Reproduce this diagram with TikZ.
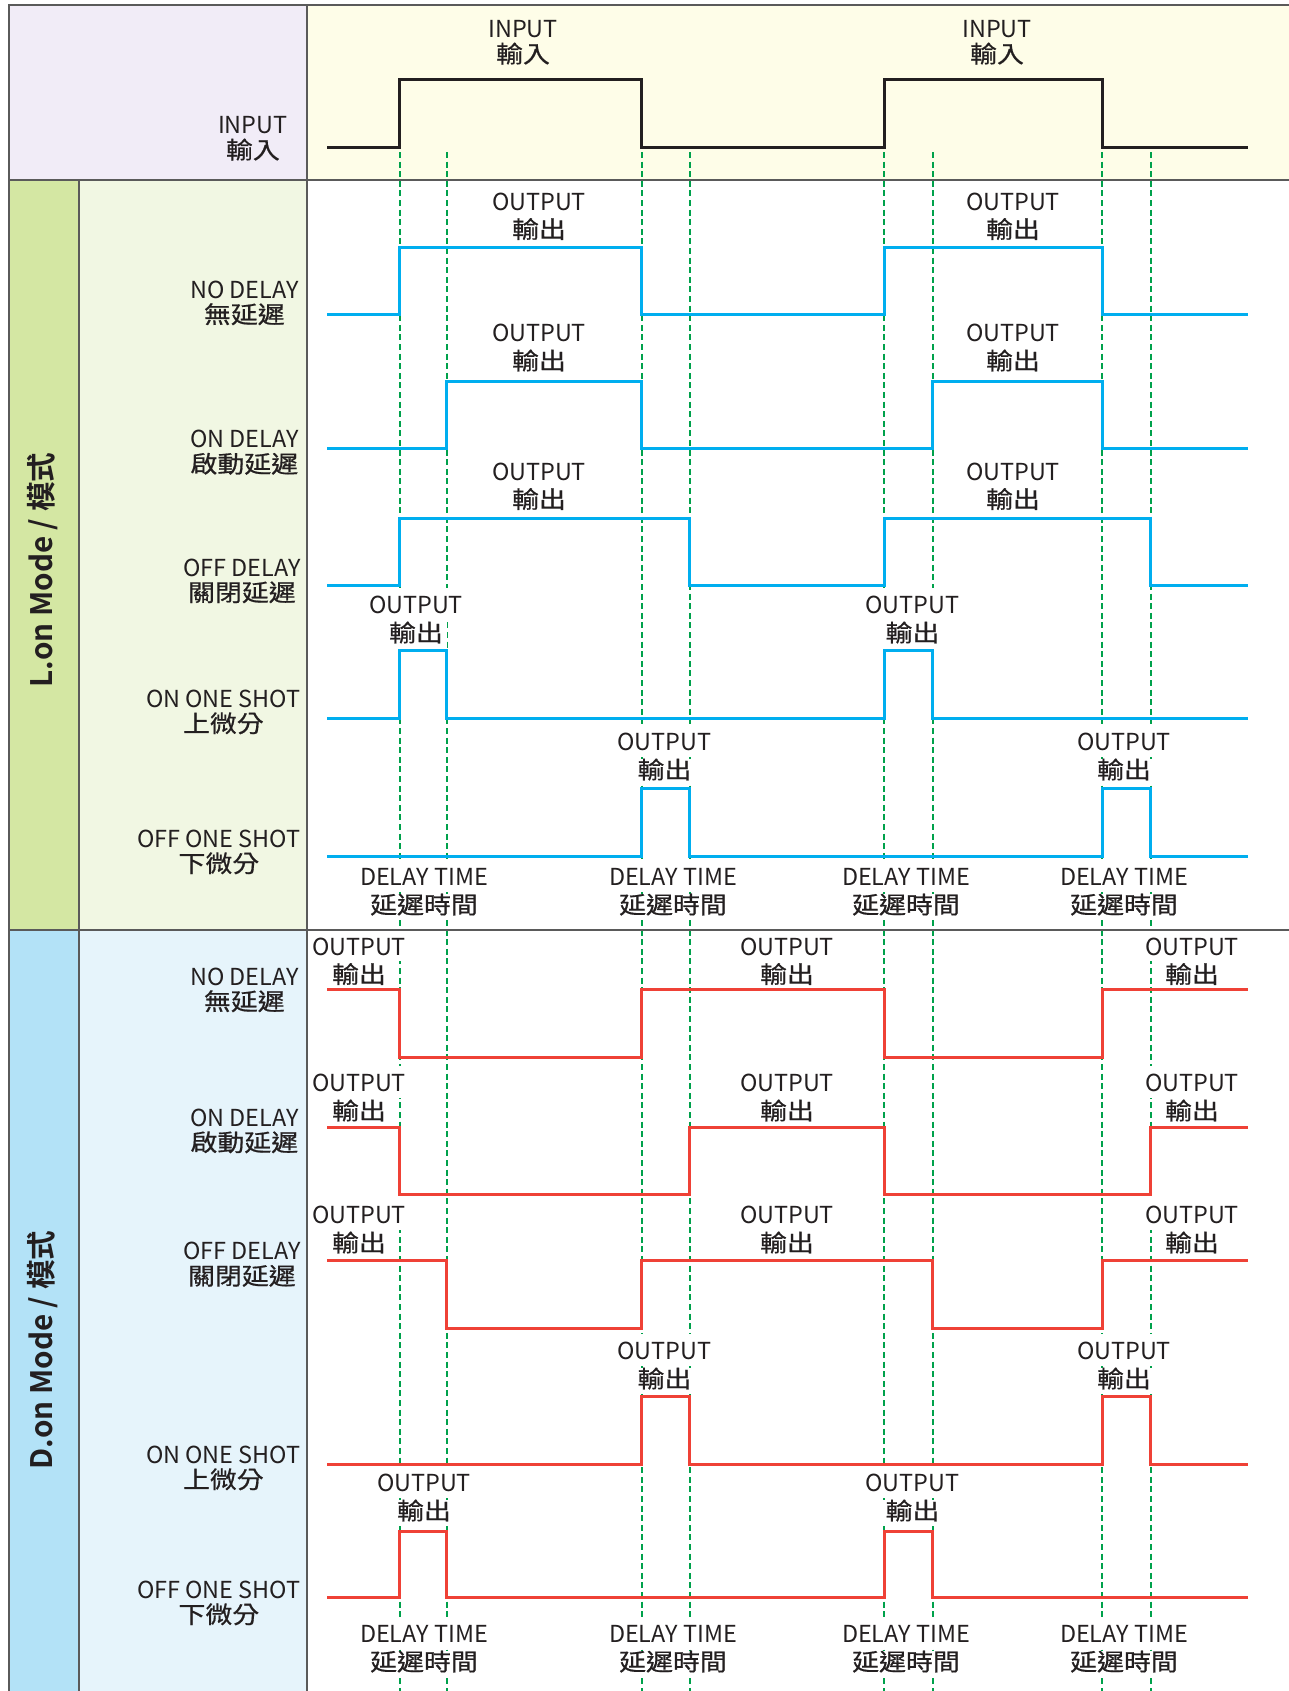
\documentclass[tikz,border=0pt]{standalone}
\usepackage{fontspec}
\setmainfont{Noto Sans CJK TC}[BoldFont={* Bold}]
\newfontfamily\cj{Noto Sans CJK TC}[FakeStretch=1.14,FakeBold=0.7]
\setlength{\fboxsep}{0pt}
\definecolor{lav}{HTML}{F1ECF7}
\definecolor{yel}{HTML}{FEFDE8}
\definecolor{gD}{HTML}{D4E7A3}
\definecolor{gL}{HTML}{F1F7E3}
\definecolor{bD}{HTML}{B3E2F7}
\definecolor{bL}{HTML}{E6F4FB}
\definecolor{lineblue}{HTML}{00AEEF}
\definecolor{linered}{HTML}{EF4136}
\definecolor{dashgreen}{HTML}{00A14B}
\definecolor{bordergray}{HTML}{5A5A5A}
\definecolor{textgray}{HTML}{231F20}
\def\xS{327}\def\xE{1248}
\def\tA{399.5}\def\tB{446.5}\def\tC{641.5}\def\tD{689.5}
\def\tE{884}\def\tF{932.5}\def\tG{1102}\def\tH{1150.5}
\newcommand\wave[7]{\draw[#7] (\xS,#1) -- (#3,#1) -- (#3,#2) -- (#4,#2) -- (#4,#1) -- (#5,#1) -- (#5,#2) -- (#6,#2) -- (#6,#1) -- (\xE,#1);}
\newcommand\two[2]{#1\\{\cj\fontsize{11.8}{12.5}\selectfont #2}}
\newcommand\twob[2]{\colorbox{white}{\rule[-3pt]{0pt}{16pt}\hspace{2pt}#1\hspace{2pt}}\\\colorbox{white}{\rule[-3pt]{0pt}{12.5pt}\hspace{2pt}{\cj\fontsize{11.8}{12.5}\selectfont #2}\hspace{2pt}}}
\begin{document}
\begin{tikzpicture}[x=0.5pt,y=-0.5pt,
  border/.style={draw=bordergray,line width=1pt},
  lab/.style={font=\fontsize{11.7}{12.5}\selectfont,align=center,inner sep=0pt,text=textgray},
  side/.style={lab,anchor=east},
  olab/.style={lab,yshift=1.2pt},
  insig/.style={line width=1.5pt,draw=textgray},
  lsig/.style={line width=1.5pt,draw=lineblue},
  dsig/.style={line width=1.5pt,draw=linered},
  guide/.style={line width=1pt,draw=dashgreen,dash pattern=on 3pt off 1.8pt},
  mode/.style={font=\fontsize{14.8}{15}\selectfont\bfseries,rotate=90,inner sep=0pt,text=textgray}
]
\useasboundingbox (0,0) rectangle (1289,1691);
\fill[white] (0,0) rectangle (1289,1691);
% panels
\fill[lav] (9,5) rectangle (307,180);
\fill[yel] (307,5) rectangle (1289,180);
\fill[gD] (9,180) rectangle (79,930);
\fill[gL] (79,180) rectangle (307,930);
\fill[bD] (9,930) rectangle (79,1691);
\fill[bL] (79,930) rectangle (307,1691);
% guides
\foreach \x in {\tA,\tB,\tC,\tD,\tE,\tF,\tG,\tH}
  \draw[guide] (\x,152) -- (\x,1691);
% mode labels
\node[mode] (lmode) at (43,570) {L.on Mode / 模式};
\node[mode] (dmode) at (43,1350) {D.on Mode / 模式};
% side labels
\node[side] (sin) at (288,138.5) {\two{INPUT}{輸入}};
\node[side] (l1) at (299,303) {\two{NO DELAY}{無延遲}};
\node[side] (l2) at (299,452.5) {\two{ON DELAY}{啟動延遲}};
\node[side] (l3) at (301,581) {\two{OFF DELAY}{關閉延遲}};
\node[side] (l4) at (301,712) {\two{ON ONE SHOT}{上微分}};
\node[side] (l5) at (301,852) {\two{OFF ONE SHOT}{下微分}};
\node[side] (d1) at (299,990) {\two{NO DELAY}{無延遲}};
\node[side] (d2) at (299,1131) {\two{ON DELAY}{啟動延遲}};
\node[side] (d3) at (301,1264.5) {\two{OFF DELAY}{關閉延遲}};
\node[side] (d4) at (301,1468) {\two{ON ONE SHOT}{上微分}};
\node[side] (d5) at (301,1603) {\two{OFF ONE SHOT}{下微分}};
% input labels
\node[lab] (in1) at (523,42.5) {\two{INPUT}{輸入}};
\node[lab] (in2) at (997,42.5) {\two{INPUT}{輸入}};
% L.on output labels
\node[olab] (lo1a) at (539,216.5) {\twob{OUTPUT}{輸出}};
\node[olab] (lo1b) at (1013,216.5) {\twob{OUTPUT}{輸出}};
\node[olab] (lo2a) at (539,348) {\twob{OUTPUT}{輸出}};
\node[olab] (lo2b) at (1013,348) {\twob{OUTPUT}{輸出}};
\node[olab] (lo3a) at (539,486.5) {\twob{OUTPUT}{輸出}};
\node[olab] (lo3b) at (1013,486.5) {\twob{OUTPUT}{輸出}};
\node[olab] (lo4a) at (416,620) {\twob{OUTPUT}{輸出}};
\node[olab] (lo4b) at (912.5,620) {\twob{OUTPUT}{輸出}};
\node[olab] (lo5a) at (664.5,757) {\twob{OUTPUT}{輸出}};
\node[olab] (lo5b) at (1124,757) {\twob{OUTPUT}{輸出}};
% L.on delay time
\node[olab] (ldt1) at (424,892) {\twob{DELAY TIME}{延遲時間}};
\node[olab] (ldt2) at (673,892) {\twob{DELAY TIME}{延遲時間}};
\node[olab] (ldt3) at (906,892) {\twob{DELAY TIME}{延遲時間}};
\node[olab] (ldt4) at (1124,892) {\twob{DELAY TIME}{延遲時間}};
% D.on output labels
\node[olab] (do1a) at (359,961.5) {\twob{OUTPUT}{輸出}};
\node[olab] (do1b) at (787,961.5) {\twob{OUTPUT}{輸出}};
\node[olab] (do1c) at (1192,961.5) {\twob{OUTPUT}{輸出}};
\node[olab] (do2a) at (359,1098) {\twob{OUTPUT}{輸出}};
\node[olab] (do2b) at (787,1098) {\twob{OUTPUT}{輸出}};
\node[olab] (do2c) at (1192,1098) {\twob{OUTPUT}{輸出}};
\node[olab] (do3a) at (359,1230) {\twob{OUTPUT}{輸出}};
\node[olab] (do3b) at (787,1230) {\twob{OUTPUT}{輸出}};
\node[olab] (do3c) at (1192,1230) {\twob{OUTPUT}{輸出}};
\node[olab] (do4a) at (664.5,1366) {\twob{OUTPUT}{輸出}};
\node[olab] (do4b) at (1124,1366) {\twob{OUTPUT}{輸出}};
\node[olab] (do5a) at (424,1498) {\twob{OUTPUT}{輸出}};
\node[olab] (do5b) at (912.5,1498) {\twob{OUTPUT}{輸出}};
% D.on delay time
\node[olab] (ddt1) at (424,1649) {\twob{DELAY TIME}{延遲時間}};
\node[olab] (ddt2) at (673,1649) {\twob{DELAY TIME}{延遲時間}};
\node[olab] (ddt3) at (906,1649) {\twob{DELAY TIME}{延遲時間}};
\node[olab] (ddt4) at (1124,1649) {\twob{DELAY TIME}{延遲時間}};
% input
\wave{147}{80}{\tA}{\tC}{\tE}{\tG}{insig}
% L.on
\wave{314}{247}{\tA}{\tC}{\tE}{\tG}{lsig}
\wave{448}{381}{\tB}{\tC}{\tF}{\tG}{lsig}
\wave{585}{518}{\tA}{\tD}{\tE}{\tH}{lsig}
\wave{718}{650.5}{\tA}{\tB}{\tE}{\tF}{lsig}
\wave{856}{788.5}{\tC}{\tD}{\tG}{\tH}{lsig}
% D.on
\wave{989.5}{1057}{\tA}{\tC}{\tE}{\tG}{dsig}
\wave{1127}{1194}{\tA}{\tD}{\tE}{\tH}{dsig}
\wave{1260}{1328}{\tB}{\tC}{\tF}{\tG}{dsig}
\wave{1464}{1396}{\tC}{\tD}{\tG}{\tH}{dsig}
\wave{1597.5}{1531}{\tA}{\tB}{\tE}{\tF}{dsig}
% borders
\draw[border] (9,1691) -- (9,5) -- (1289,5);
\draw[border] (9,180) -- (1289,180);
\draw[border] (9,930) -- (1289,930);
\draw[border] (79,180) -- (79,1691);
\draw[border] (307,5) -- (307,1691);
\end{tikzpicture}
\end{document}
